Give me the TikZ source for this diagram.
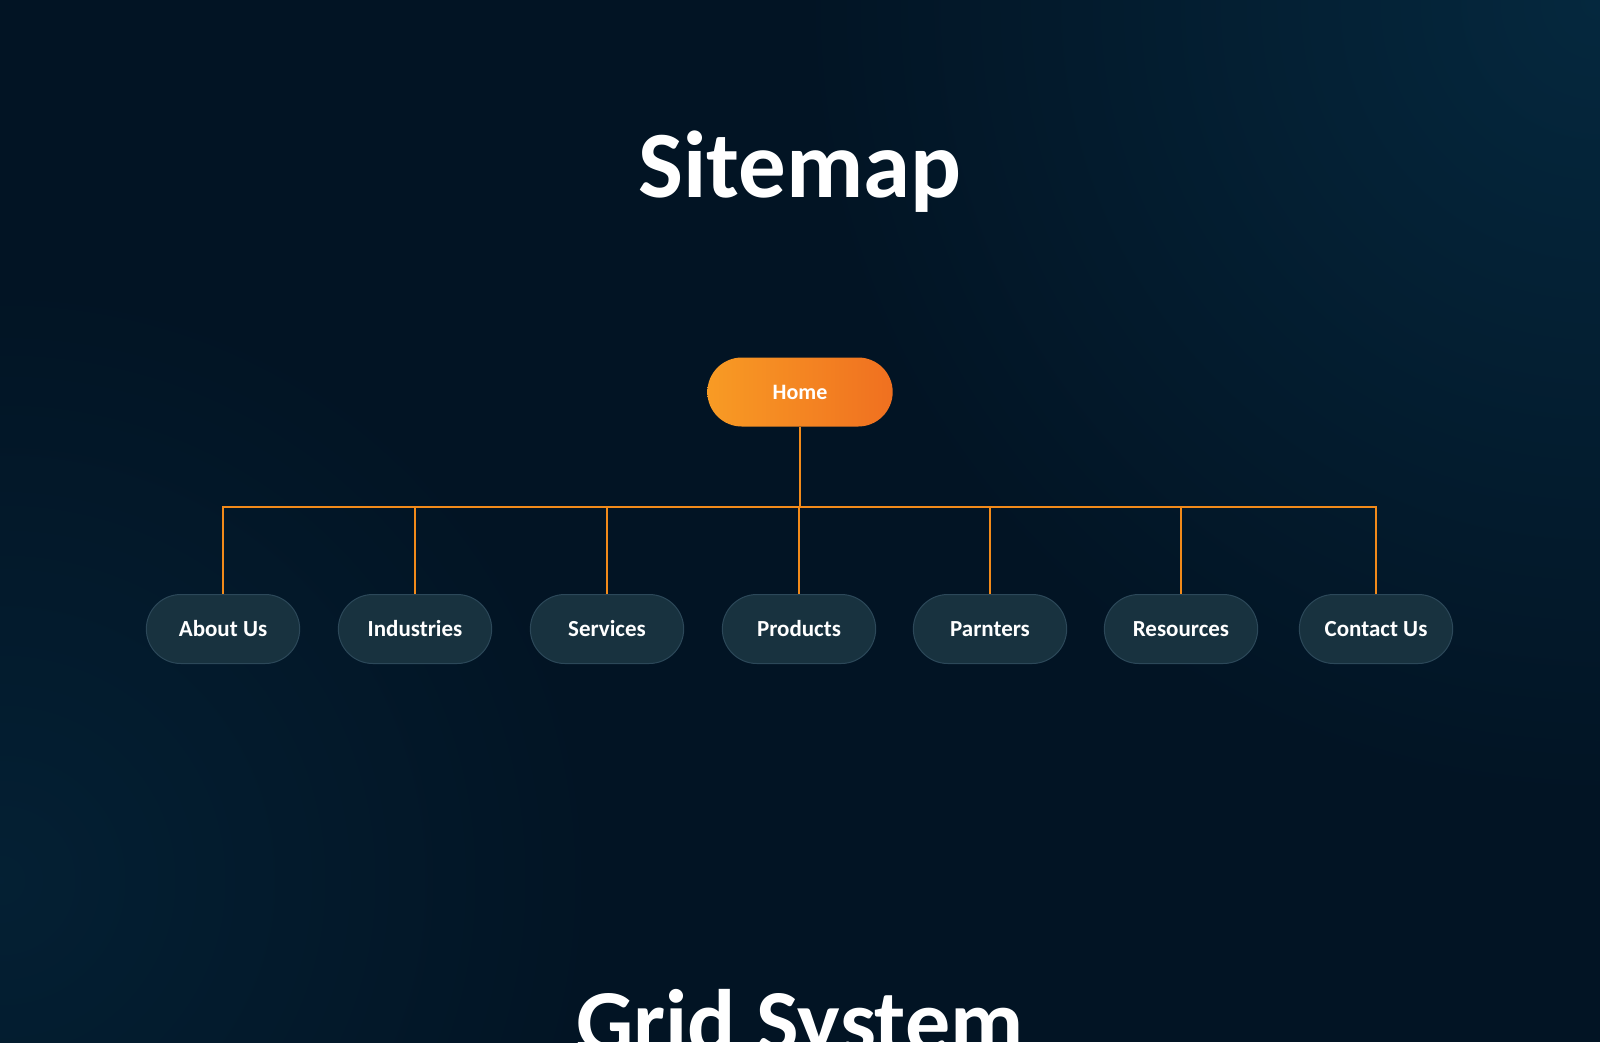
\documentclass[tikz,border=0pt]{standalone}
\usepackage{fontspec}
\setmainfont{Carlito}
\usetikzlibrary{shapes.misc}
\definecolor{bgA}{HTML}{021424}
\definecolor{bgB}{HTML}{05283E}
\definecolor{nodefill}{HTML}{18323F}
\definecolor{nodeline}{HTML}{2C4859}
\definecolor{orA}{HTML}{F89B24}
\definecolor{orB}{HTML}{F07020}
\definecolor{wire}{HTML}{F28A1A}
\begin{document}
\begin{tikzpicture}[x=1pt,y=-1pt,
  child/.style={rounded rectangle,minimum width=160pt,minimum height=69pt,fill=nodefill,draw=nodeline,line width=1pt,text=white,font=\fontsize{23}{27}\selectfont\bfseries},
  wire/.style={draw=wire,line width=2.5pt}]
\path[use as bounding box] (0,0) rectangle (1600,1042);
\begin{scope}
\clip (0,0) rectangle (1600,1042);
\fill[bgA] (0,0) rectangle (1600,1042);
\shade[inner color=bgB,outer color=bgA] (1600,0) circle (800);
\shade[inner color=bgB!60!bgA,outer color=bgA] (0,880) circle (600);
\node[text=white,font=\fontsize{95}{105}\selectfont\bfseries] (title) at (800,172) {Sitemap};
\node[text=white,font=\fontsize{90}{100}\selectfont\bfseries,anchor=base] (grid) at (800,1052) {Grid System};
\end{scope}
\node[rounded rectangle,minimum width=192pt,minimum height=69pt,left color=orA,right color=orB,text=white,font=\fontsize{22}{26}\selectfont\bfseries] (home) at (800,392) {Home};
\node[child] (c1) at (223,629) {About Us};
\node[child] (c2) at (415,629) {Industries};
\node[child] (c3) at (607,629) {Services};
\node[child] (c4) at (799,629) {Products};
\node[child] (c5) at (990,629) {Parnters};
\node[child] (c6) at (1181,629) {Resources};
\node[child] (c7) at (1376,629) {Contact Us};
\coordinate (bus) at (800,507);
\draw[wire] (home.south) -- (bus);
\foreach \c in {c1,c2,c3,c4,c5,c6,c7}{
  \draw[wire] (bus) -| (\c.north);
}
\end{tikzpicture}
\end{document}
